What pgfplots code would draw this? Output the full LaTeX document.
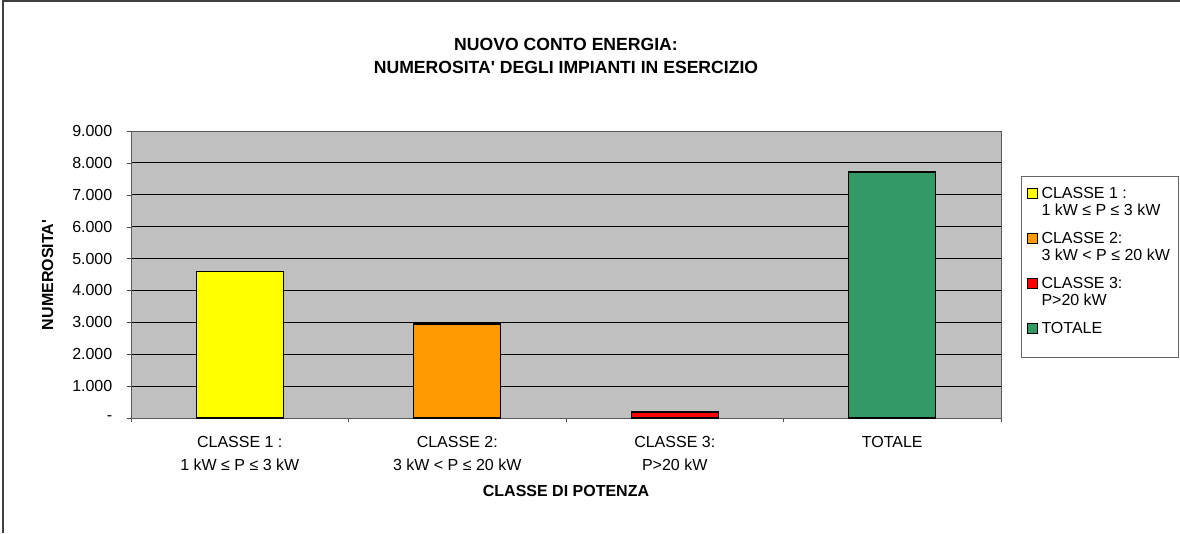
\documentclass[border=0pt]{standalone}
\usepackage{fontspec}
\setmainfont{Liberation Sans}[Ligatures=TeXOff]
\usepackage{pgfplots}
\pgfplotsset{compat=1.18}
\definecolor{plotbg}{HTML}{C0C0C0}
\definecolor{c1}{HTML}{FFFF00}
\definecolor{c2}{HTML}{FF9900}
\definecolor{c3}{HTML}{FF0000}
\definecolor{c4}{HTML}{339966}
\begin{document}
\begin{tikzpicture}[x=0.75pt,y=-0.75pt]
\path[use as bounding box] (0,0) rectangle (1180,533);
\draw[line width=1.5pt, black!75] (3,533) -- (3,1) -- (1180,1);
\node[font=\bfseries\fontsize{13.2}{16}\selectfont] at (566,44) {NUOVO CONTO ENERGIA:};
\node[font=\bfseries\fontsize{13.2}{16}\selectfont] at (566,67.5) {NUMEROSITA' DEGLI IMPIANTI IN ESERCIZIO};
\node[font=\bfseries\fontsize{12}{14}\selectfont, rotate=90] at (47.5,275) {NUMEROSITA'};
\node[font=\bfseries\fontsize{12}{14}\selectfont] at (566,491) {CLASSE DI POTENZA};
\begin{axis}[
  at={(98.25pt,-313.5pt)}, anchor=south west,
  scale only axis, width=652.5pt, height=215.25pt,
  ybar, bar width=0.4,
  xmin=-0.5, xmax=3.5, ymin=0, ymax=9000,
  axis background/.style={fill=plotbg},
  axis line style={draw=black!65},
  ymajorgrids, grid style={draw=black, line width=0.75pt},
  tick pos=left, tick align=outside,
  major tick length=3pt, minor tick length=3pt,
  xtick={0,1,2,3},
  xticklabels={{CLASSE 1 :\\1 kW ≤ P ≤ 3 kW},{CLASSE 2:\\3 kW < P ≤ 20 kW},{CLASSE 3:\\P>20 kW},{TOTALE\\\phantom{P}}},
  major x tick style={draw=none},
  minor xtick={-0.5,0.5,1.5,2.5,3.5},
  minor x tick style={draw=black!70},
  xticklabel style={align=center, font=\fontsize{12}{16.8}\selectfont, yshift=-7.5pt},
  ytick={0,1000,...,9000},
  yticklabels={-,1.000,2.000,3.000,4.000,5.000,6.000,7.000,8.000,9.000},
  yticklabel style={font=\fontsize{12}{14}\selectfont, xshift=-7.5pt},
  y tick style={draw=black!70},
  legend style={at={(1.0226,0.843)}, anchor=north west, draw=black!60,
    font=\fontsize{12}{13.1}\selectfont,
    cells={align=left, anchor=west, inner sep=1.5pt},
    row sep=6.75pt, inner xsep=4.5pt, inner ysep=6pt, column sep=0.5pt},
  legend image code/.code={\draw[#1,draw=black,line width=0.75pt] (0pt,2.8pt) rectangle (7.5pt,10.3pt); \path (0pt,-10.3pt);},
]
\addplot[fill=c1, draw=black, line width=1.1pt, bar shift=0pt] coordinates {(0,4590)};
\addlegendentry{CLASSE 1 :\\1 kW ≤ P ≤ 3 kW}
\addplot[fill=c2, draw=black, line width=1.1pt, bar shift=0pt] coordinates {(1,2950)};
\addlegendentry{CLASSE 2:\\3 kW < P ≤ 20 kW}
\addplot[fill=c3, draw=black, line width=1.1pt, bar shift=0pt] coordinates {(2,190)};
\addlegendentry{CLASSE 3:\\P>20 kW}
\addplot[fill=c4, draw=black, line width=1.1pt, bar shift=0pt,
  legend image code/.code={\draw[fill=c4,draw=black,line width=0.75pt] (0pt,0.55pt) rectangle (7.5pt,8.05pt); \path (0pt,-8.05pt);}] coordinates {(3,7720)};
\addlegendentry{TOTALE\\[-4.5pt]\phantom{P}}
\end{axis}
\end{tikzpicture}
\end{document}
